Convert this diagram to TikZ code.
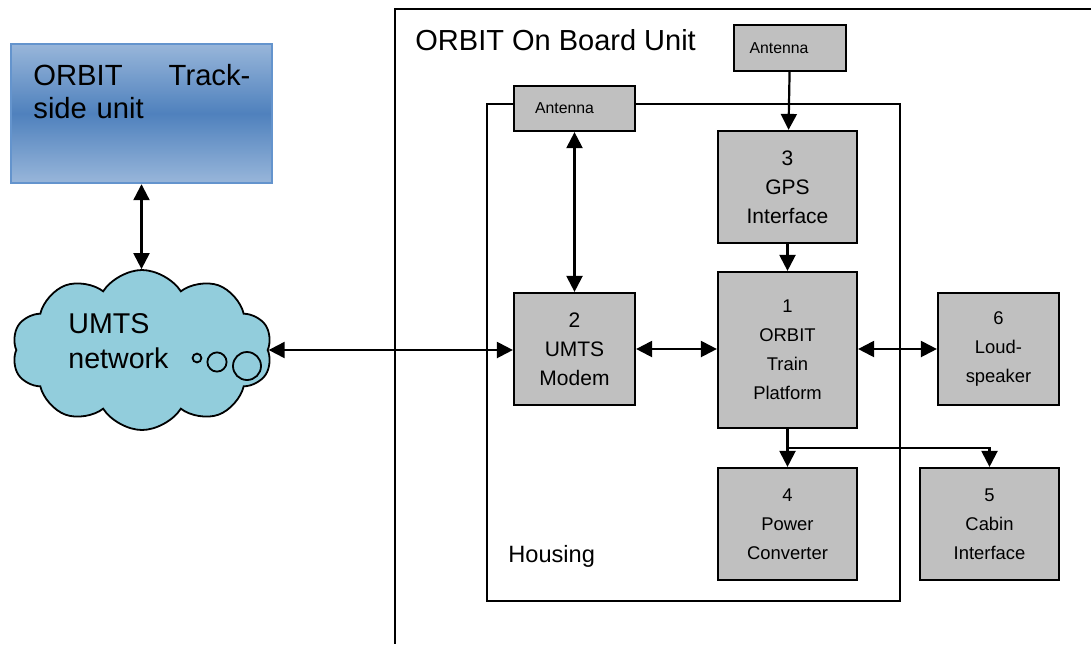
\documentclass[tikz,border=0pt]{standalone}
\usepackage{fontspec}
\setmainfont{Liberation Sans}
\usepackage{tikz}
\usetikzlibrary{arrows.meta,positioning,shapes.symbols}
\definecolor{boxgray}{RGB}{192,192,192}
\definecolor{cloudblue}{RGB}{146,205,220}
\definecolor{tsdark}{RGB}{79,129,189}
\definecolor{tslight}{RGB}{152,182,218}
\definecolor{tsedge}{RGB}{100,148,205}
\tikzset{>={Triangle[length=8pt,width=8pt]}}

\begin{document}
\begin{tikzpicture}[
    x=0.5pt, y=-0.5pt,
    unit/.style={rectangle, draw, line width=1.1pt, fill=boxgray, align=center, inner sep=0pt},
    antenna/.style={unit, minimum width=56pt, minimum height=23pt, font=\fontsize{7.9}{9.5}\selectfont},
    midunit/.style={unit, minimum width=60.5pt, minimum height=56pt, font=\fontsize{10.5}{14.5}\selectfont},
    wideunit/.style={unit, minimum width=69.5pt, minimum height=56pt, font=\fontsize{9.2}{14.5}\selectfont},
    bigtext/.style={inner sep=0pt, font=\fontsize{14.6}{16.5}\selectfont},
    frame/.style={draw, line width=1pt},
    link/.style={line width=1.1pt}
]
    \useasboundingbox (0,0) rectangle (1091,644);

    % frames
    \draw[frame] (1091,9) -- (395,9) -- (395,644);
    \node[bigtext, anchor=base west, font=\fontsize{14.5}{17}\selectfont] (obutitle) at (415,50) {ORBIT On Board Unit};
    \draw[frame] (487,104) rectangle (900,601);
    \node[anchor=base west, inner sep=0pt, font=\fontsize{11.8}{14}\selectfont] (houselbl) at (508,562) {Housing};

    % trackside and network
    \node[rectangle, draw=tsedge, line width=1.2pt, top color=tslight, bottom color=tslight, middle color=tsdark,
        minimum width=130.5pt, minimum height=69.5pt] (tsu) at (141.5,113.5) {};
    \node[bigtext, anchor=north west, text width=108.5pt, align=left] (tsutext) at (33,64) {ORBIT\hfill Track-\\side unit};
    \node[cloud, cloud puffs=10, cloud puff arc=115, aspect=1.67, draw, line width=0.9pt, fill=cloudblue,
        minimum width=130pt, minimum height=80pt] (net) at (142,350) {};
    \node[bigtext, anchor=north west, text width=60pt, align=left, font=\fontsize{14.3}{17.5}\selectfont] (nettext) at (68,313) {UMTS\\network};
    \draw[line width=0.9pt, fill=cloudblue] (197,358) circle[radius=2.2pt];
    \draw[line width=0.9pt, fill=cloudblue] (217,362) circle[radius=4.8pt];
    \draw[line width=0.9pt, fill=cloudblue] (247,366) circle[radius=7pt];

    % on board units
    \node[antenna] (antA) at (790,48) {Antenna\hspace*{11pt}};
    \node[antenna, minimum width=60.5pt, minimum height=22.5pt] (antB) at (574.5,108.5) {Antenna\hspace*{10pt}};
    \node[midunit, minimum width=69.5pt] (gps) at (787.5,187) {3\\GPS\\Interface};
    \node[midunit] (modem) at (574.5,349) {2\\UMTS\\Modem};
    \node[wideunit, minimum height=78pt] (otp) at (787.5,350) {1\\ORBIT\\Train\\Platform};
    \node[wideunit, minimum width=60.5pt] (spk) at (998.5,349) {6\\Loud-\\speaker};
    \node[wideunit] (pwr) at (787.5,524) {4\\Power\\Converter};
    \node[wideunit] (cab) at (989.5,524) {5\\Cabin\\Interface};
    \coordinate (split) at (787.5,448);

    \draw[link, <->] (tsu.south) -- (tsu.south |- net.north);
    \draw[link, <->] (net.east) -- (net.east -| modem.west);
    \draw[link, <->] (antB) -- (modem);
    \draw[link, ->] (antA) -- (gps);
    \draw[link, ->] (gps) -- (otp);
    \draw[link, <->] (modem.east) -- (modem.east -| otp.west);
    \draw[link, <->] (spk.west -| otp.east) -- (spk.west);
    \draw[link, ->] (otp) -- (pwr);
    \draw[link, ->] (split) -| (cab.north);
\end{tikzpicture}
\end{document}
